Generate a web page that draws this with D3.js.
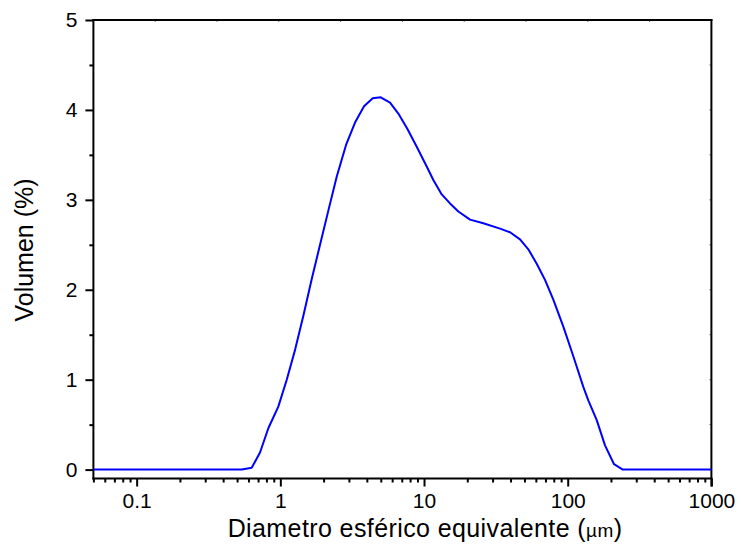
<!DOCTYPE html>
<html><head><meta charset="utf-8">
<script src="https://cdn.jsdelivr.net/npm/d3@7"></script>
<style>body{margin:0;background:#fff}svg{display:block}</style>
</head><body><svg id="c" width="741" height="545"></svg>
<script>
// Data
const diameters = [0.05, 0.539, 0.632, 0.722, 0.825, 0.968, 1.108, 1.27, 1.45, 1.654, 1.889, 2.158, 2.47, 2.866, 3.31, 3.824, 4.395, 4.996, 5.80, 6.625, 7.65, 8.896, 10.44, 11.61, 13.28, 15.17, 17.33, 20.90, 25.86, 33.81, 39.68, 46.56, 53.19, 60.85, 69.5, 79.4, 93.2, 109.4, 128.4, 139.1, 159.2, 181.8, 210.1, 241.5, 1000];
const volumes   = [0, 0, 0.02, 0.19, 0.46, 0.70, 1.0, 1.34, 1.72, 2.12, 2.50, 2.88, 3.26, 3.61, 3.86, 4.04, 4.13, 4.14, 4.08, 3.96, 3.79, 3.59, 3.37, 3.22, 3.06, 2.96, 2.87, 2.78, 2.74, 2.68, 2.64, 2.56, 2.45, 2.29, 2.11, 1.89, 1.59, 1.26, 0.92, 0.77, 0.55, 0.27, 0.06, 0, 0];
const xTickValues = [0.1, 1, 10, 100, 1000];
const xTickLabels = ["0.1", "1", "10", "100", "1000"];
const yTickValues = [0, 1, 2, 3, 4, 5];
const yTickLabels = ["0", "1", "2", "3", "4", "5"];
const yMinorValues = [0.5, 1.5, 2.5, 3.5, 4.5];
const xTitle = "Diametro esférico equivalente (";
const xTitleUnit = "µm";
const yTitle = "Volumen (%)";

const FONT = "'Liberation Sans', Arial, Helvetica, sans-serif";
const svg = d3.select("#c");
const L = 93.4, R = 711.4, T = 20, B = 478.5;

const x = d3.scaleLog().domain([0.05, 1000]).range([L, R]);
const y = d3.scaleLinear().domain([0, 5]).range([469.6, T]);

const xMinor = [];
for (let e = -2; e <= 2; e++) for (let k = 2; k <= 9; k++) {
  const v = +(k * Math.pow(10, e)).toPrecision(3);
  if (v >= 0.05 && v <= 1000) xMinor.push(v);
}

// minor x ticks
svg.append("g").attr("transform", `translate(0,${B})`)
  .call(d3.axisBottom(x).tickValues(xMinor).tickSize(4).tickFormat(""))
  .call(g => g.select(".domain").remove())
  .call(g => g.selectAll("line").attr("stroke", "#000").attr("stroke-width", 2));
// major x ticks
svg.append("g").attr("transform", `translate(0,${B})`)
  .call(d3.axisBottom(x).tickValues(xTickValues).tickSize(8).tickPadding(7)
        .tickFormat((d, i) => xTickLabels[i]))
  .call(g => g.select(".domain").remove())
  .call(g => g.selectAll("line").attr("stroke", "#000").attr("stroke-width", 2))
  .call(g => g.selectAll("text").attr("font-family", FONT).attr("font-size", 21).attr("fill", "#000"));

// minor y ticks
svg.append("g").attr("transform", `translate(${L},0)`)
  .call(d3.axisLeft(y).tickValues(yMinorValues).tickSize(4).tickFormat(""))
  .call(g => g.select(".domain").remove())
  .call(g => g.selectAll("line").attr("stroke", "#000").attr("stroke-width", 2));
// major y ticks
svg.append("g").attr("transform", `translate(${L},0)`)
  .call(d3.axisLeft(y).tickValues(yTickValues).tickSize(8).tickPadding(8)
        .tickFormat((d, i) => yTickLabels[i]))
  .call(g => g.select(".domain").remove())
  .call(g => g.selectAll("line").attr("stroke", "#000").attr("stroke-width", 2))
  .call(g => g.selectAll("text").attr("font-family", FONT).attr("font-size", 21).attr("fill", "#000"));

// faint mirror ticks on top / right
const topTicks = d3.range(1, 10).map(i => L + (R - L) * i / 10);
svg.append("g").selectAll("line").data(topTicks).join("line")
  .attr("x1", d => d).attr("x2", d => d).attr("y1", T).attr("y2", T + 2)
  .attr("stroke", "#777").attr("stroke-width", 1);
svg.append("g").selectAll("line").data(yMinorValues.concat(yTickValues)).join("line")
  .attr("x1", R - 2).attr("x2", R).attr("y1", d => y(d)).attr("y2", d => y(d))
  .attr("stroke", "#777").attr("stroke-width", 1);

// frame
const frame = svg.append("g").attr("stroke", "#000").attr("stroke-width", 2).attr("fill", "none");
frame.append("line").attr("x1", L).attr("x2", L).attr("y1", T - 1).attr("y2", B + 1);
frame.append("line").attr("x1", L - 1).attr("x2", R + 1).attr("y1", B).attr("y2", B);
frame.append("line").attr("x1", L - 1).attr("x2", R + 1).attr("y1", T).attr("y2", T);
frame.append("line").attr("x1", R).attr("x2", R).attr("y1", T - 1).attr("y2", B + 8);

// data line
const pts = diameters.map((d, i) => [d, volumes[i]]);
svg.append("path").datum(pts)
  .attr("fill", "none").attr("stroke", "#0000ff").attr("stroke-width", 2)
  .attr("stroke-linejoin", "round")
  .attr("d", d3.line().x(d => x(d[0])).y(d => y(d[1])));

// titles
const xt = svg.append("text").attr("x", 425).attr("y", 537)
  .attr("text-anchor", "middle").attr("font-family", FONT).attr("font-size", 25)
  .attr("letter-spacing", 0.4).attr("fill", "#000");
xt.append("tspan").text(xTitle);
xt.append("tspan").attr("font-size", 19).text(xTitleUnit);
xt.append("tspan").text(")");

svg.append("text").attr("transform", "translate(33,250) rotate(-90)")
  .attr("text-anchor", "middle").attr("font-family", FONT).attr("font-size", 25).attr("fill", "#000")
  .text(yTitle);
</script>
</body></html>
